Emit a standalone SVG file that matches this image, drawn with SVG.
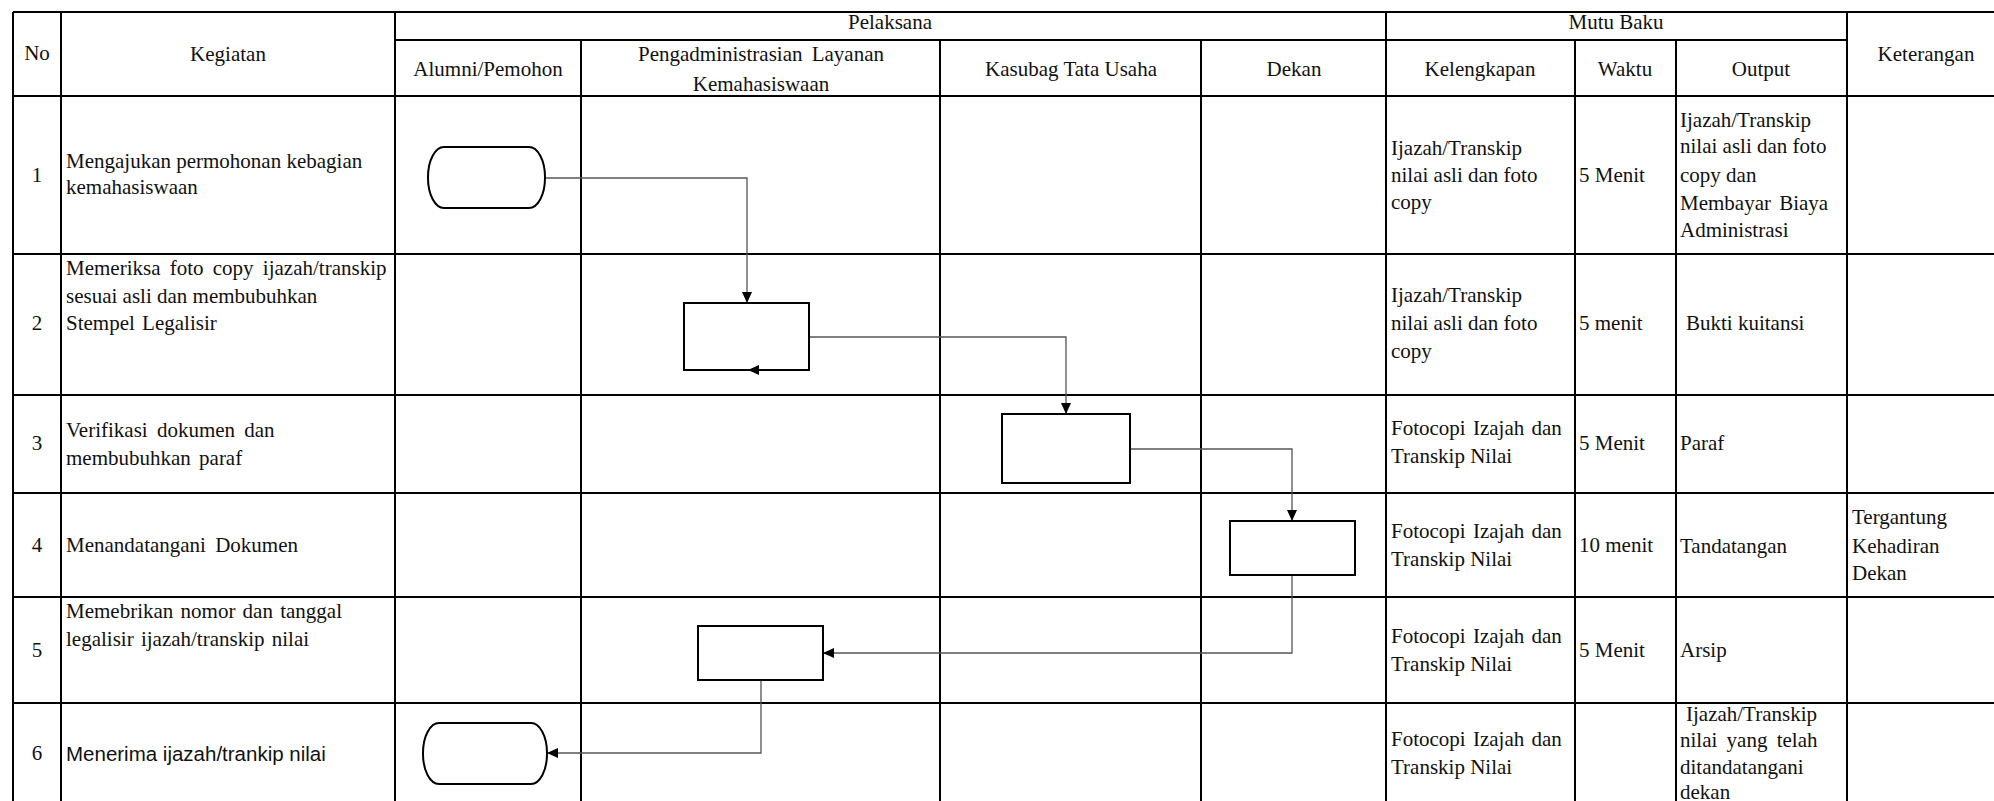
<svg xmlns="http://www.w3.org/2000/svg" width="1994" height="801" viewBox="0 0 1994 801">
<style>
.g{stroke:#000;stroke-width:2;fill:none}
.t{font-family:"Liberation Serif","Times New Roman",serif;font-size:21px;fill:#111}
.c{text-anchor:middle}
.s{font-family:"Liberation Sans",Arial,sans-serif;font-size:20.5px;fill:#111}
.shape{fill:#fff;stroke:#000;stroke-width:2}
.conn{fill:none;stroke:#555;stroke-width:1.3}
</style>
<defs>
<marker id="arr" markerUnits="userSpaceOnUse" markerWidth="12" markerHeight="10" refX="11" refY="5" orient="auto">
<path d="M0,0 L11,5 L0,10 Z" fill="#000"/>
</marker>
</defs>
<rect width="1994" height="801" fill="#fff"/>
<g id="grid" class="g">
<path d="M13,12 H1994 M395,40 H1847 M13,96 H1994 M13,254 H1994 M13,395 H1994 M13,493 H1994 M13,597 H1994 M13,703 H1994"/>
<path d="M13,12 V801 M61,12 V801 M395,12 V801 M581,40 V801 M940,40 V801 M1201,40 V801 M1386,12 V801 M1575,40 V801 M1676,40 V801 M1847,12 V801"/>
</g>
<g id="header" class="t">
<text class="c" x="37" y="60">No</text>
<text class="c" x="228" y="61">Kegiatan</text>
<text class="c" x="890" y="29">Pelaksana</text>
<text class="c" x="488" y="76">Alumni/Pemohon</text>
<text class="c" x="761" y="61" word-spacing="4">Pengadministrasian Layanan</text>
<text class="c" x="761" y="91">Kemahasiswaan</text>
<text class="c" x="1071" y="76">Kasubag Tata Usaha</text>
<text class="c" x="1294" y="76">Dekan</text>
<text class="c" x="1616" y="29">Mutu Baku</text>
<text class="c" x="1480" y="76">Kelengkapan</text>
<text class="c" x="1625" y="76">Waktu</text>
<text class="c" x="1761" y="76">Output</text>
<text class="c" x="1926" y="61">Keterangan</text>
</g>
<g id="row1" class="t">
<text class="c" x="37" y="182">1</text>
<text x="66" y="168">Mengajukan permohonan kebagian</text>
<text x="66" y="194">kemahasiswaan</text>
<text x="1391" y="155">Ijazah/Transkip</text>
<text x="1391" y="182">nilai asli dan foto</text>
<text x="1391" y="209">copy</text>
<text x="1579" y="182">5 Menit</text>
<text x="1680" y="127">Ijazah/Transkip</text>
<text x="1680" y="153">nilai asli dan foto</text>
<text x="1680" y="182">copy dan</text>
<text x="1680" y="210" word-spacing="3">Membayar Biaya</text>
<text x="1680" y="237">Administrasi</text>
</g>
<g id="row2" class="t">
<text class="c" x="37" y="330">2</text>
<text x="66" y="275" word-spacing="4">Memeriksa foto copy ijazah/transkip</text>
<text x="66" y="303">sesuai asli dan membubuhkan</text>
<text x="66" y="330" word-spacing="2">Stempel Legalisir</text>
<text x="1391" y="302">Ijazah/Transkip</text>
<text x="1391" y="330">nilai asli dan foto</text>
<text x="1391" y="358">copy</text>
<text x="1579" y="330">5 menit</text>
<text x="1686" y="330">Bukti kuitansi</text>
</g>
<g id="row3" class="t">
<text class="c" x="37" y="450">3</text>
<text x="66" y="437" word-spacing="4">Verifikasi dokumen dan</text>
<text x="66" y="465" word-spacing="3">membubuhkan paraf</text>
<text x="1391" y="435" word-spacing="2">Fotocopi Izajah dan</text>
<text x="1391" y="463">Transkip Nilai</text>
<text x="1579" y="450">5 Menit</text>
<text x="1680" y="450">Paraf</text>
</g>
<g id="row4" class="t">
<text class="c" x="37" y="552">4</text>
<text x="66" y="552" word-spacing="4">Menandatangani Dokumen</text>
<text x="1391" y="538" word-spacing="2">Fotocopi Izajah dan</text>
<text x="1391" y="566">Transkip Nilai</text>
<text x="1579" y="552">10 menit</text>
<text x="1680" y="553">Tandatangan</text>
<text x="1852" y="524">Tergantung</text>
<text x="1852" y="553">Kehadiran</text>
<text x="1852" y="580">Dekan</text>
</g>
<g id="row5" class="t">
<text class="c" x="37" y="657">5</text>
<text x="66" y="618" word-spacing="2">Memebrikan nomor dan tanggal</text>
<text x="66" y="646" word-spacing="2">legalisir ijazah/transkip nilai</text>
<text x="1391" y="643" word-spacing="2">Fotocopi Izajah dan</text>
<text x="1391" y="671">Transkip Nilai</text>
<text x="1579" y="657">5 Menit</text>
<text x="1680" y="657">Arsip</text>
</g>
<g id="row6">
<text class="t c" x="37" y="760">6</text>
<text class="s" x="66" y="761">Menerima ijazah/trankip nilai</text>
<text class="t" x="1391" y="746" word-spacing="2">Fotocopi Izajah dan</text>
<text class="t" x="1391" y="774">Transkip Nilai</text>
<text class="t" x="1686" y="721">Ijazah/Transkip</text>
<text class="t" x="1680" y="747" word-spacing="4">nilai yang telah</text>
<text class="t" x="1680" y="774">ditandatangani</text>
<text class="t" x="1680" y="799">dekan</text>
</g>
<g id="connectors">
<path class="conn" d="M545,178 H747 V303" marker-end="url(#arr)"/>
<path class="conn" d="M809,337 H1066 V414" marker-end="url(#arr)"/>
<path class="conn" d="M1130,449 H1292 V521" marker-end="url(#arr)"/>
<path class="conn" d="M1292,575 V653 H823" marker-end="url(#arr)"/>
<path class="conn" d="M761,680 V753 H547" marker-end="url(#arr)"/>
</g>
<g id="n1"><rect class="shape" x="428" y="147" width="117" height="61" rx="16" ry="30"/></g>
<g id="n2"><rect class="shape" x="684" y="303" width="125" height="67"/><path d="M748,370 L759,365 L759,375 Z" fill="#000"/></g>
<g id="n3"><rect class="shape" x="1002" y="414" width="128" height="69"/></g>
<g id="n4"><rect class="shape" x="1230" y="521" width="125" height="54"/></g>
<g id="n5"><rect class="shape" x="698" y="626" width="125" height="54"/></g>
<g id="n6"><rect class="shape" x="423" y="723" width="124" height="61" rx="16" ry="30"/></g>
</svg>
